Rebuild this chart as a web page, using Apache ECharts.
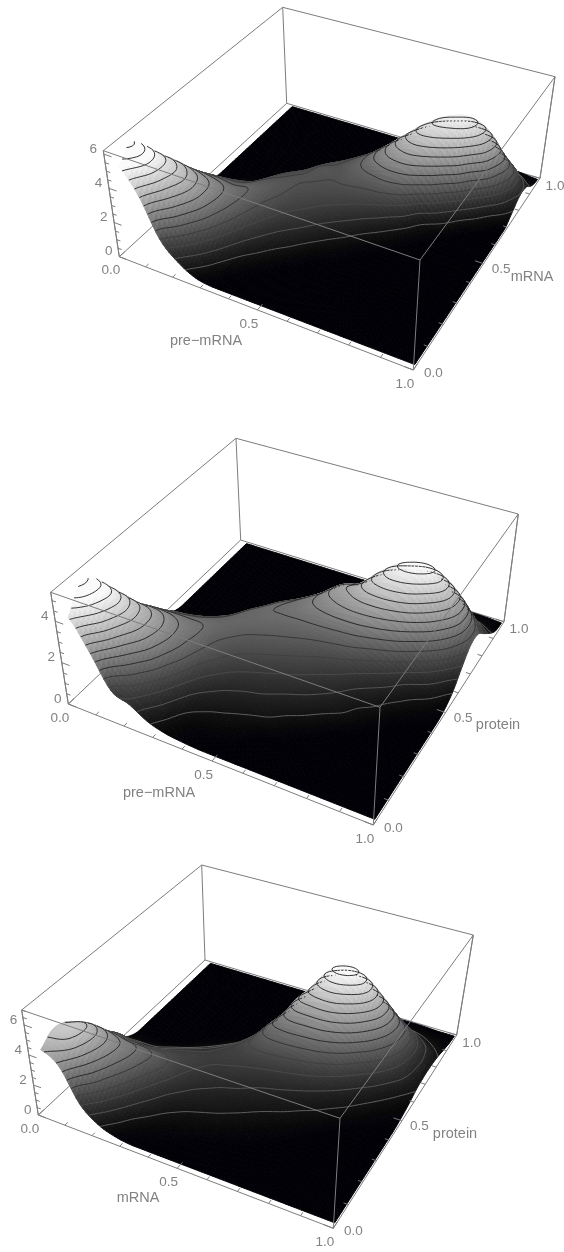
<!DOCTYPE html>
<html><head><meta charset="utf-8">
<style>html,body{margin:0;padding:0;background:#fff}#c{width:564px;height:1252px;filter:blur(.4px)}</style>
<script src="https://cdn.jsdelivr.net/npm/echarts@6/dist/echarts.min.js"></script>
</head><body><div id="c"></div>
<script>
// height over (row = first variable 0..1, column = second variable 0..1)
const premrnaMrna = [
[5.2,6.0,5.3,4.1,2.9,1.9,1.1,.3,0,0,0,0,0,0,0,0,0],
[3.9,4.9,4.8,4.1,3.1,2.2,1.4,.6,.05,0,0,0,0,0,0,0,0],
[1.7,3.2,3.9,3.6,2.9,2.2,1.5,.8,.2,0,0,0,0,0,0,0,0],
[.7,1.7,2.6,2.8,2.6,2.1,1.6,1.0,.4,0,0,0,0,0,0,0,0],
[.15,.7,1.4,1.9,2.1,2.1,1.9,1.6,1.2,.7,.2,0,0,0,0,0,0],
[0,.1,.5,1.0,1.4,1.65,1.8,1.75,1.6,1.2,.7,.2,0,0,0,0,0],
[0,0,.1,.45,.85,1.2,1.45,1.62,1.72,1.72,1.35,.8,.25,0,0,0,0],
[0,0,0,.1,.45,.85,1.2,1.45,1.65,1.72,1.72,1.4,.8,.25,0,0,0],
[0,0,0,0,.1,.45,.85,1.25,1.6,1.9,2.1,2.0,1.4,.7,.15,0,0],
[0,0,0,0,0,.15,.5,.95,1.45,2.0,2.7,2.8,2.2,1.3,.5,.05,0],
[0,0,0,0,0,0,.15,.55,1.2,2.1,3.2,3.7,3.1,2.0,1.0,.3,0],
[0,0,0,0,0,0,0,.2,.7,1.8,3.3,4.4,4.2,2.9,1.5,.5,.1],
[0,0,0,0,0,0,0,0,.2,.8,2.6,4.3,4.9,3.8,2.1,.8,.2],
[0,0,0,0,0,0,0,0,0,.25,1.3,3.4,4.9,4.4,2.5,1.0,.3],
[0,0,0,0,0,0,0,0,0,0,.3,1.6,3.6,3.9,2.5,1.0,.2],
[0,0,0,0,0,0,0,0,0,0,0,.4,1.6,2.3,1.8,.7,.1],
[0,0,0,0,0,0,0,0,0,0,0,0,.4,.8,.7,.2,0]];
const premrnaProtein = [
[4.15,5.1,5.0,4.1,2.85,2.1,1.4,.8,.2,0,0,0,0,0,0,0,0],
[2.8,4.0,4.4,3.9,3.0,2.3,1.6,1.0,.35,0,0,0,0,0,0,0,0],
[1.25,2.5,3.3,3.3,2.9,2.3,1.7,1.1,.5,.05,0,0,0,0,0,0,0],
[.9,1.5,2.3,2.6,2.5,2.2,1.8,1.3,.7,.2,0,0,0,0,0,0,0],
[.4,.8,1.3,1.8,2.0,2.05,1.9,1.6,1.1,.5,.1,0,0,0,0,0,0],
[.15,.3,.6,1.0,1.4,1.65,1.85,1.9,1.7,1.2,.6,.1,0,0,0,0,0],
[.05,.1,.35,.65,1.0,1.35,1.65,1.9,2.0,1.8,1.3,.7,.15,0,0,0,0],
[0,.05,.25,.5,.8,1.15,1.5,1.8,2.05,2.1,1.8,1.2,.6,.1,0,0,0],
[0,0,.15,.4,.7,1.0,1.35,1.7,2.05,2.35,2.3,1.8,1.1,.5,.05,0,0],
[0,0,0,.3,.55,.85,1.2,1.55,2.05,2.6,2.9,2.5,1.7,.9,.3,0,0],
[0,0,0,.1,.4,.7,1.0,1.4,2.0,2.8,3.2,2.8,1.8,.9,.3,0,0],
[0,0,0,0,.2,.5,.8,1.2,1.9,2.9,3.8,3.7,2.5,1.3,.5,.1,0],
[0,0,0,0,0,.3,.5,.9,1.6,2.8,4.1,4.4,3.2,1.8,.8,.2,0],
[0,0,0,0,0,.05,.3,.6,1.2,2.4,3.9,4.7,3.8,2.2,1.0,.3,0],
[0,0,0,0,0,0,.05,.3,.7,1.7,3.1,4.2,3.7,2.3,1.1,.3,.05],
[0,0,0,0,0,0,0,.1,.4,1.0,2.0,2.9,2.9,2.0,1.0,.3,.05],
[0,0,0,0,0,0,0,0,.1,.4,1.0,1.5,1.5,1.0,.5,.1,0]];
const mrnaProtein = [
[4.3,4.9,4.7,4.0,2.85,1.95,1.0,.3,0,0,0,0,0,0,0,0,0],
[3.6,4.7,4.9,4.2,3.1,2.2,1.1,.3,0,0,0,0,0,0,0,0,0],
[1.5,3.0,3.7,3.6,2.9,1.8,1.0,.35,0,0,0,0,0,0,0,0,0],
[.55,1.4,2.3,2.8,2.7,1.9,1.2,.6,.1,0,0,0,0,0,0,0,0],
[.15,.5,1.1,1.7,2.1,1.85,1.45,.9,.35,.05,0,0,0,0,0,0,0],
[0,.15,.5,.9,1.35,1.55,1.55,1.2,.7,.25,0,0,0,0,0,0,0],
[0,.05,.25,.55,.9,1.25,1.45,1.5,1.2,.7,.2,0,0,0,0,0,0],
[0,0,.15,.4,.7,1.0,1.35,1.6,1.8,1.6,.9,.3,.05,0,0,0,0],
[0,0,.05,.3,.55,.85,1.2,1.6,2.2,2.8,2.4,1.2,.4,.05,0,0,0],
[0,0,0,.15,.4,.65,1.0,1.5,2.25,3.3,4.2,3.4,2.0,.9,.2,0,0],
[0,0,0,.05,.25,.5,.85,1.35,2.15,3.35,4.9,5.5,3.7,1.9,.7,.1,0],
[0,0,0,0,.1,.35,.65,1.15,1.95,3.25,5.1,6.5,5.1,2.9,1.2,.3,0],
[0,0,0,0,0,.15,.45,.85,1.55,2.75,4.4,5.9,5.2,3.1,1.5,.4,0],
[0,0,0,0,0,0,.2,.55,1.05,1.9,3.2,4.3,4.2,2.9,1.4,.4,.05],
[0,0,0,0,0,0,0,.25,.6,1.2,2.0,2.7,2.8,2.1,1.1,.3,.05],
[0,0,0,0,0,0,0,.05,.25,.6,1.1,1.4,1.5,1.2,.6,.2,0],
[0,0,0,0,0,0,0,0,.1,.25,.5,.6,.6,.5,.3,.1,0]];

const horizontalTickLabels = [0, 0.5, 1];
const horizontalTicks = [0,.1,.2,.3,.4,.5,.6,.7,.8,.9,1];
const heightTickLabels1 = [0,2,4,6];
const heightTickLabels2 = [0,2,4];
const heightTickLabels3 = [0,2,4,6];

// view of each box: screen corners of floor and lid, in order (0,0),(1,0),(1,1),(0,1)
const panels = [
 {z:premrnaMrna, ztop:6.2, peak:5.5, step:.42, zl:heightTickLabels1,
  floor:[[119.3,256.7],[413.3,370],[540,178.3],[286.7,103.3]],
  lid:[[103.3,150.7],[420,260],[555,76.7],[282.7,7.3]],
  names:[['pre\u2212mRNA',206,341],['mRNA',532,277]]},
 {z:premrnaProtein, ztop:5.4, peak:4.9, step:.34, zl:heightTickLabels2,
  floor:[[68.3,704],[373.3,825],[504,621.7],[240.7,540]],
  lid:[[50.7,592.3],[380,707.3],[518.3,514],[236,438.3]],
  names:[['pre\u2212mRNA',159,793],['protein',498,725]]},
 {z:mrnaProtein, ztop:7, peak:6.6, step:.47, zl:heightTickLabels3,
  floor:[[38.3,1115],[333.3,1228.3],[456.7,1035],[205,960]],
  lid:[[21.7,1010],[340,1118.3],[473.3,935],[201.7,865]],
  names:[['mRNA',138,1198],['protein',455,1134]]}
];
const SUB = 6, LINE = '#7d7d7d', LABEL = '#828282';
const FONT = '13.5px "Liberation Sans", Arial, sans-serif';
const NAME_FONT = '14.5px "Liberation Sans", Arial, sans-serif';

function homography(q){
  const [x0,y0]=q[0],[x1,y1]=q[1],[x2,y2]=q[2],[x3,y3]=q[3];
  const dx1=x1-x2,dx2=x3-x2,sx=x0-x1+x2-x3,dy1=y1-y2,dy2=y3-y2,sy=y0-y1+y2-y3;
  const den=dx1*dy2-dx2*dy1,g=(sx*dy2-dx2*sy)/den,h=(dx1*sy-sx*dy1)/den;
  const a=x1-x0+g*x1,b=x3-x0+h*x3,d=y1-y0+g*y1,e=y3-y0+h*y3;
  return (u,v)=>{const w=g*u+h*v+1;return [(a*u+b*v+x0)/w,(d*u+e*v+y0)/w];};
}
function cr(p0,p1,p2,p3,t){return .5*(2*p1+(p2-p0)*t+(2*p0-5*p1+4*p2-p3)*t*t+(3*p1-p0-3*p2+p3)*t*t*t);}
function refine(z){
  const n=z.length,m=(n-1)*SUB+1;
  const at=(a,i)=>a[Math.max(0,Math.min(n-1,i))];
  const rows=z.map(r=>{const o=[];for(let k=0;k<m;k++){const s=k/SUB,i=Math.min(n-2,Math.floor(s));o.push(cr(at(r,i-1),at(r,i),at(r,i+1),at(r,i+2),s-i));}return o;});
  const out=[];
  for(let k=0;k<m;k++){const s=k/SUB,i=Math.min(n-2,Math.floor(s)),o=[];
    for(let c=0;c<m;c++)o.push(Math.max(0,cr(at(rows,i-1)[c],at(rows,i)[c],at(rows,i+1)[c],at(rows,i+2)[c],s-i)));
    out.push(o);}
  return out;
}
function build(p){
  const H0=homography(p.floor),H1=homography(p.lid);
  const proj=(x,y,z)=>{const a=H0(x,y),b=H1(x,y),w=z/p.ztop;return [a[0]+(b[0]-a[0])*w,a[1]+(b[1]-a[1])*w];};
  const g=refine(p.z),m=g.length;
  const sx=k=>.03+.965*k/(m-1), sy=k=>.02+.97*k/(m-1);
  const items=[];
  const edge=(a,b,c,d,e,f)=>({a:proj(a,b,c),b:proj(d,e,f)});
  const t=p.ztop;
  items.push({kind:'lines',color:LINE,lines:[edge(0,1,0,0,1,t),edge(0,0,0,0,1,0),edge(0,1,0,1,1,0),edge(1,1,0,1,1,t),edge(0,0,0,0,0,t)]});
  const level=[];for(let L=p.step;L<Math.max(...p.z.flat());L+=p.step)level.push(L);
  const lineColor=L=>{const r=Math.min(1,L/(p.peak*.45)),v=Math.round(118-88*r);return `rgb(${v},${v},${v})`;};
  const pend=[];
  for(let i=0;i<m-1;i++){
    const segs=[];
    for(let j=m-2;j>=0;j--){
      const z00=g[i][j],z10=g[i+1][j],z11=g[i+1][j+1],z01=g[i][j+1];
      const avg=(z00+z10+z11+z01)/4;
      const v=Math.round(Math.min(250,Math.pow(avg/p.peak,1.02)*268));
      items.push({kind:'poly',color:`rgb(${v},${v},${v+(v<6?6:0)})`,
        pts:[proj(sx(i),sy(j),z00),proj(sx(i+1),sy(j),z10),proj(sx(i+1),sy(j+1),z11),proj(sx(i),sy(j+1),z01)]});
      for(const L of level){
        const c=[];
        const cross=(xa,ya,za,xb,yb,zb)=>{if((za<L)!==(zb<L)){const r=(L-za)/(zb-za);c.push(proj(xa+(xb-xa)*r,ya+(yb-ya)*r,L));}};
        cross(sx(i),sy(j),z00,sx(i+1),sy(j),z10);
        cross(sx(i+1),sy(j),z10,sx(i+1),sy(j+1),z11);
        cross(sx(i+1),sy(j+1),z11,sx(i),sy(j+1),z01);
        cross(sx(i),sy(j+1),z01,sx(i),sy(j),z00);
        if(c.length>=2)segs.push({a:c[0],b:c[1],color:lineColor(L)});
        if(c.length===4)segs.push({a:c[2],b:c[3],color:lineColor(L)});
      }
    }
    pend.push(segs);
    if(i>1)items.push({kind:'segs',segs:pend[i-2]});
  }
  items.push({kind:'segs',segs:pend[pend.length-2]});
  items.push({kind:'segs',segs:pend[pend.length-1]});
  const front=[edge(0,0,0,1,0,0),edge(1,0,0,1,1,0),edge(1,0,0,1,0,t),edge(0,0,t,1,0,t),edge(1,0,t,1,1,t),edge(0,0,t,0,1,t),edge(0,1,t,1,1,t),edge(0,0,0,0,0,t),edge(1,1,0,1,1,t)];
  const small=[];
  horizontalTicks.forEach(v=>{const l=(v===0||v===.5||v===1)?.028:.015;
    small.push(edge(v,0,0,v,l,0));small.push(edge(1,v,0,1-l,v,0));});
  for(let v=0;v<=t;v+=.5){const l=(v%2===0)?.028:.014;small.push(edge(0,0,v,l,0,v));}
  items.push({kind:'lines',color:LINE,lines:front.concat(small)});
  const texts=[];
  const fmt=v=>v.toFixed(1);
  horizontalTickLabels.forEach(v=>{
    const a=proj(v,0,0);texts.push([fmt(v),a[0]-8.5,a[1]+14,FONT]);
    const b=proj(1,v,0);texts.push([fmt(v),b[0]+20-5*v,b[1]+3+5*v,FONT]);
  });
  p.zl.forEach(v=>{const a=proj(0,0,v);texts.push([String(v),a[0]-10.5,a[1]-5,FONT]);});
  p.names.forEach(n=>texts.push([n[0],n[1],n[2],NAME_FONT]));
  items.push({kind:'text',texts});
  return items;
}
function seriesFor(p){
  const items=build(p);
  return {type:'custom',coordinateSystem:'cartesian2d',clip:false,animation:false,progressive:0,silent:true,
    data:items.map((_,k)=>[k,0]),
    renderItem(params,api){
      const it=items[params.dataIndex];
      const C=q=>api.coord(q);
      if(it.kind==='poly'){
        return {type:'polygon',shape:{points:it.pts.map(C)},style:{fill:it.color,stroke:it.color,lineWidth:.9}};
      }
      if(it.kind==='lines'){
        return {type:'group',children:it.lines.map(l=>{const a=C(l.a),b=C(l.b);
          return {type:'line',shape:{x1:a[0],y1:a[1],x2:b[0],y2:b[1]},style:{stroke:it.color,lineWidth:1,fill:null}};})};
      }
      if(it.kind==='segs'){
        return {type:'group',children:it.segs.map(l=>{const a=C(l.a),b=C(l.b);
          return {type:'line',shape:{x1:a[0],y1:a[1],x2:b[0],y2:b[1]},style:{stroke:l.color,lineWidth:.9,fill:null}};})};
      }
      return {type:'group',children:it.texts.map(x=>{const a=C([x[1],x[2]]);
        return {type:'text',x:a[0],y:a[1],style:{text:x[0],fill:LABEL,font:x[3],align:'center',verticalAlign:'middle'}};})};
    }};
}
const chart=echarts.init(document.getElementById('c'),null,{renderer:'canvas'});
chart.setOption({animation:false,backgroundColor:'#fff',
  grid:{left:0,right:0,top:0,bottom:0},
  xAxis:{type:'value',min:0,max:564,show:false},
  yAxis:{type:'value',min:0,max:1252,inverse:true,show:false},
  series:panels.map(seriesFor)});
</script></body></html>
